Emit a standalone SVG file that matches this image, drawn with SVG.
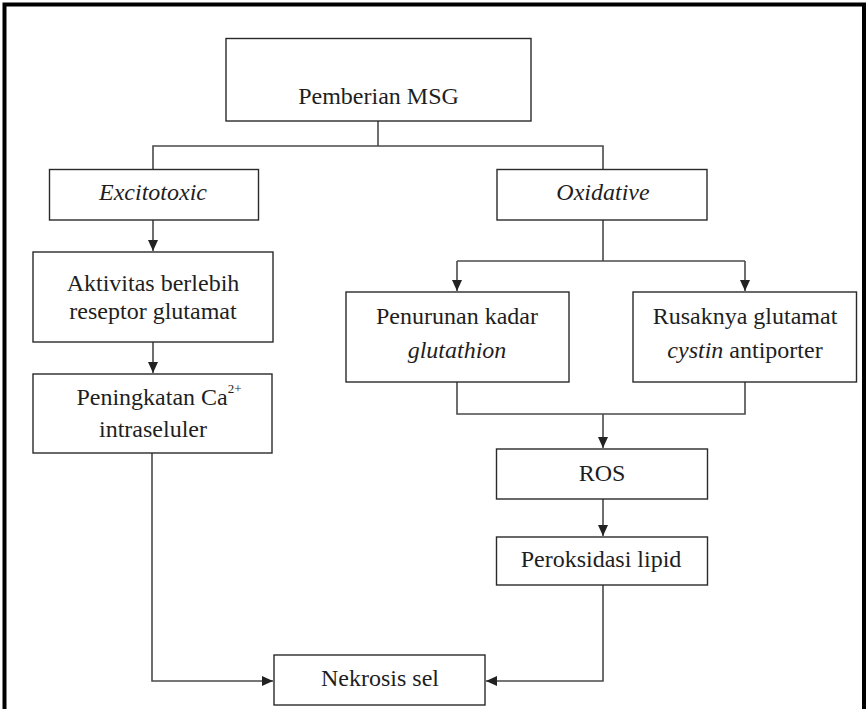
<svg xmlns="http://www.w3.org/2000/svg" width="867" height="709" viewBox="0 0 867 709">
<style>
.box{fill:#fff;stroke:#2a2a2a;stroke-width:1.4}
.c{fill:none;stroke:#4a4a4a;stroke-width:1.6}
</style>
<defs>
<marker id="ah" markerUnits="userSpaceOnUse" markerWidth="11" markerHeight="10" refX="11" refY="5" orient="auto" viewBox="0 0 11 10">
<path d="M0,0 L11,5 L0,10 z" fill="#222"/>
</marker>
</defs>
<rect width="867" height="709" fill="#fff"/>
<path d="M4.5,715 V4.5 H864 V715" fill="none" stroke="#000" stroke-width="4"/>

<g id="connectors">
<path class="c" d="M378,121 V146"/>
<path class="c" d="M153,169 V146 H603 V169"/>
<path class="c" d="M153,220 V251" marker-end="url(#ah)"/>
<path class="c" d="M153,342 V373" marker-end="url(#ah)"/>
<path class="c" d="M603,220 V261"/>
<path class="c" d="M457,261 H745"/>
<path class="c" d="M457,261 V291" marker-end="url(#ah)"/>
<path class="c" d="M745,261 V291" marker-end="url(#ah)"/>
<path class="c" d="M457,382 V414 H745 V382"/>
<path class="c" d="M603,414 V448" marker-end="url(#ah)"/>
<path class="c" d="M603,499 V536" marker-end="url(#ah)"/>
<path class="c" d="M152,453 V681 H273" marker-end="url(#ah)"/>
<path class="c" d="M603,585 V681 H486" marker-end="url(#ah)"/>
</g>

<g font-size="24" fill="#1e1e1e" text-anchor="middle">
<g id="pemberian">
<rect class="box" x="226" y="38.5" width="305" height="82.5"/>
<text font-family="Liberation Serif" style="font-family:'Liberation Serif',serif" x="378.5" y="104">Pemberian MSG</text>
</g>
<g id="excitotoxic">
<rect class="box" x="49.5" y="169.5" width="209" height="50.5"/>
<text font-family="Liberation Serif" style="font-family:'Liberation Serif',serif" font-style="italic" x="153" y="200">Excitotoxic</text>
</g>
<g id="oxidative">
<rect class="box" x="497" y="169.5" width="210" height="50.5"/>
<text font-family="Liberation Serif" style="font-family:'Liberation Serif',serif" font-style="italic" x="603" y="200">Oxidative</text>
</g>
<g id="aktivitas">
<rect class="box" x="33" y="252" width="240" height="90"/>
<text font-family="Liberation Serif" style="font-family:'Liberation Serif',serif" x="153" y="291">Aktivitas berlebih</text>
<text font-family="Liberation Serif" style="font-family:'Liberation Serif',serif" x="153" y="319">reseptor glutamat</text>
</g>
<g id="peningkatan">
<rect class="box" x="33" y="374" width="239" height="79"/>
<text font-family="Liberation Serif" style="font-family:'Liberation Serif',serif" x="159" y="405">Peningkatan Ca<tspan font-size="13" dy="-12">2+</tspan></text>
<text font-family="Liberation Serif" style="font-family:'Liberation Serif',serif" x="153" y="437">intraseluler</text>
</g>
<g id="penurunan">
<rect class="box" x="346" y="292" width="223" height="90"/>
<text font-family="Liberation Serif" style="font-family:'Liberation Serif',serif" x="457" y="324">Penurunan kadar</text>
<text font-family="Liberation Serif" style="font-family:'Liberation Serif',serif" font-style="italic" x="457" y="358">glutathion</text>
</g>
<g id="rusaknya">
<rect class="box" x="633" y="292" width="223.5" height="90"/>
<text font-family="Liberation Serif" style="font-family:'Liberation Serif',serif" x="745" y="324">Rusaknya glutamat</text>
<text font-family="Liberation Serif" style="font-family:'Liberation Serif',serif" x="745" y="358"><tspan font-style="italic">cystin</tspan> antiporter</text>
</g>
<g id="ros">
<rect class="box" x="496.5" y="449" width="211" height="50"/>
<text font-family="Liberation Serif" style="font-family:'Liberation Serif',serif" x="602" y="481">ROS</text>
</g>
<g id="peroksidasi">
<rect class="box" x="496.5" y="537" width="211" height="48"/>
<text font-family="Liberation Serif" style="font-family:'Liberation Serif',serif" x="601" y="567">Peroksidasi lipid</text>
</g>
<g id="nekrosis">
<rect class="box" x="274" y="655" width="211" height="50"/>
<text font-family="Liberation Serif" style="font-family:'Liberation Serif',serif" x="380" y="686">Nekrosis sel</text>
</g>
</g>
</svg>
